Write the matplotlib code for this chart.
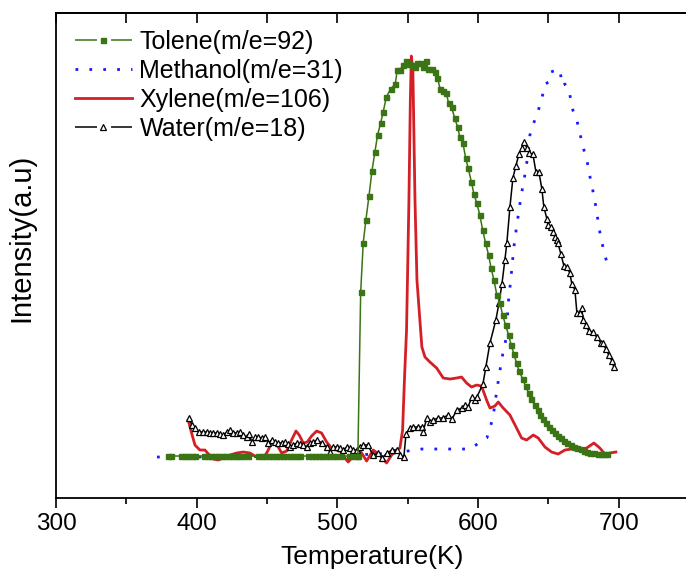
import matplotlib
matplotlib.use("Agg")
import matplotlib.pyplot as plt
from matplotlib.lines import Line2D
from matplotlib.ticker import MultipleLocator

plt.rcParams['font.family'] = ['Liberation Sans', 'DejaVu Sans']

# ---- Tolene (m/e=92) ----
tol_T = [379.6, 382.0, 389.0, 391.5, 394.0, 396.5, 398.6,
         405.4, 407.9, 410.4, 412.9, 415.4, 417.9, 420.4, 422.9, 425.4, 427.9, 430.4, 433.0, 436.2,
         443.8, 446.3, 448.8, 451.3, 453.8, 456.3, 458.8, 461.3, 463.8, 466.3, 468.8, 471.0, 473.2,
         479.3, 481.8, 484.3, 486.8, 489.3, 491.8, 494.3, 496.8, 499.3, 502.3,
         508.4, 511.0, 513.7, 514.6,
         516.6, 518.4, 520.3, 522.5, 524.6, 526.7, 528.6, 530.8, 532.6, 534.8,
         537.9, 541.2, 542.6, 544.7, 546.8, 548.8, 550.7, 552.8, 554.9, 556.8,
         558.9, 560.8, 563.0, 564.6, 567.0, 569.1, 571.2, 573.1, 575.3, 577.4,
         579.1, 581.2, 583.4, 585.5, 587.1, 589.3, 591.2, 593.0, 595.3, 597.1,
         599.1, 601.3, 603.3, 605.4, 607.5, 609.3, 611.3, 613.4, 615.6, 617.5,
         619.6, 621.7, 623.6, 625.5, 627.4, 629.3, 631.7, 633.8, 635.9, 637.8,
         640.2, 642.3, 644.2, 646.3, 648.2, 650.4, 652.5, 654.7, 656.8, 658.9,
         661.1, 663.4, 665.8, 668.2, 670.5, 672.9, 675.3, 677.6, 679.6, 682.4,
         685.2, 687.3, 689.5, 691.6]
tol_I = [42] * 47 + [
         206, 255, 278, 302, 327, 346, 363, 375, 386, 401,
         409, 414, 428, 428, 433, 437, 434, 433, 431, 435,
         435, 431, 437, 429, 429, 426, 420, 409, 407, 405,
         395, 391, 380, 371, 361, 355, 340, 330, 316, 304,
         295, 283, 268, 255, 243, 230, 218, 203, 195, 183,
         173, 163, 153, 144, 135, 127, 119, 112, 105, 99,
         93, 88, 83, 79, 75, 71, 68, 65, 62, 60,
         57, 55, 53, 51, 50, 49, 47, 46, 45.5, 45,
         44.5, 44, 44, 44]

# ---- Methanol (m/e=31) ----
met_T = [371.8, 400.0, 450.0, 500.0, 540.0, 560.0, 580.0, 594.0,
         606.3, 610.6, 613.4, 617.0, 620.5, 621.2, 623.4, 625.5, 627.6, 630.5,
         633.3, 635.5, 636.9, 639.0, 641.9, 644.0, 646.1, 647.5, 650.4, 651.8,
         657.5, 658.9, 659.6, 661.8, 664.6, 666.0, 667.4, 670.3, 671.7, 673.8,
         675.3, 677.4, 678.8, 680.2, 681.7, 683.1, 686.6, 688.1, 689.5, 691.6]
met_I = [41, 41, 41.5, 42, 45, 49, 49, 49,
         60, 80, 108, 140, 163, 191, 220, 251, 273, 301,
         323, 343, 363, 373, 383, 393, 404, 414, 416, 426,
         429, 422, 412, 414, 408, 398, 388, 378, 368, 357,
         348, 338, 327, 317, 307, 297, 266, 256, 246, 236]

# ---- Xylene (m/e=106) ----
xyl_T = [394.0, 396.4, 398.8, 402.3, 405.9, 409.0, 411.8, 415.4, 418.9, 423.7,
         428.4, 433.1, 437.9, 441.4, 445.0, 448.5, 450.9, 453.3, 455.7, 458.0,
         460.4, 464.0, 467.5, 470.6, 472.9, 475.8, 478.6, 481.7, 485.3, 488.8,
         492.4, 495.9, 499.5, 503.1, 505.4, 507.7, 510.2, 512.5, 514.9, 517.3,
         520.8, 525.5, 530.3, 535.0, 538.6, 542.1, 544.5, 546.4, 547.7, 549.2,
         550.9, 551.9, 552.6, 553.7, 555.2, 556.6, 559.2, 560.1, 562.3, 565.8,
         570.6, 575.3, 580.0, 584.8, 588.3, 591.9, 595.4, 599.0, 602.5, 606.1,
         608.5, 612.0, 614.4, 617.9, 622.7, 627.4, 631.0, 634.5, 639.3, 642.8,
         647.6, 652.3, 657.0, 661.8, 666.5, 672.4, 677.2, 682.4, 686.6, 690.2,
         693.7, 698.0]
xyl_I = [78, 65, 53, 48, 48, 43, 39, 38, 40, 43,
         45, 46, 45, 42, 40, 42, 48, 56, 56, 51,
         45, 47, 58, 67, 63, 55, 56, 62, 67, 65,
         56, 50, 48, 46, 40, 36, 40, 45, 48, 45,
         37, 48, 43, 35, 43, 48, 50, 68, 118, 168,
         298, 398, 442, 428, 298, 218, 168, 151, 141, 136,
         130, 120, 119, 120, 121, 115, 111, 113, 112, 98,
         90, 92, 96, 90, 83, 70, 60, 58, 63, 60,
         51, 46, 44, 48, 49, 48, 50, 55, 50, 44,
         45, 46]

# ---- Water (m/e=18) ----
wat_T = [394.5, 396.7, 398.8, 401.6, 404.5, 407.3, 409.5, 411.6, 414.4, 416.6,
         418.7, 421.5, 423.7, 425.8, 428.6, 430.8, 432.9, 435.7, 437.2, 439.3,
         441.4, 443.6, 446.4, 448.5, 450.7, 453.5, 455.7, 457.8, 460.6, 462.8,
         464.9, 466.3, 468.4, 471.3, 473.4, 475.6, 478.4, 480.5, 482.7, 485.5,
         489.1, 492.6, 494.7, 496.9, 499.7, 501.8, 504.0, 506.8, 509.0, 511.1,
         513.9, 516.1, 518.2, 521.7, 525.3, 528.9, 531.7, 535.3, 538.8, 542.4,
         544.5, 547.3, 548.8, 551.6, 553.7, 557.3, 560.1, 560.8, 563.7, 565.8,
         567.9, 571.5, 575.1, 578.6, 581.5, 585.0, 588.6, 590.7, 592.8, 595.7,
         597.8, 599.2, 603.5, 605.6, 608.5, 612.7, 614.9, 617.0, 619.1, 620.5,
         622.7, 624.8, 626.9, 629.1, 631.2, 632.6, 634.8, 636.2, 639.0, 641.2,
         643.3, 645.4, 646.8, 649.0, 649.7, 651.8, 653.3, 654.7, 656.1, 656.8,
         658.9, 661.1, 663.2, 665.3, 666.7, 668.9, 670.3, 672.4, 673.8, 674.6,
         676.7, 678.8, 681.7, 684.5, 687.3, 688.8, 690.9, 693.0, 695.2, 696.6]
wat_I = [80, 73, 70, 66, 66, 66, 65, 65, 65, 64,
         63, 66, 68, 65, 65, 66, 63, 61, 64, 56,
         61, 61, 60, 61, 55, 58, 56, 55, 55, 56,
         54, 51, 53, 55, 54, 53, 51, 55, 56, 58,
         55, 51, 46, 51, 51, 50, 48, 51, 50, 48,
         48, 51, 53, 53, 43, 45, 40, 45, 48, 48,
         43, 41, 64, 70, 71, 71, 71, 66, 80, 76,
         78, 80, 80, 83, 79, 88, 90, 93, 91, 101,
         98, 101, 114, 131, 155, 178, 195, 214, 238, 255,
         291, 320, 332, 344, 350, 356, 350, 345, 344, 326,
         326, 309, 291, 279, 273, 271, 266, 261, 258, 255,
         244, 232, 231, 225, 214, 208, 185, 185, 190, 178,
         173, 167, 166, 161, 155, 155, 149, 143, 137, 131]

labels = ["Tolene(m/e=92)", "Methanol(m/e=31)", "Xylene(m/e=106)", "Water(m/e=18)"]
green = "#3a7414"
blue = "#1a1aff"
red = "#d41f26"

fig = plt.figure(figsize=(6.86, 5.71), dpi=100)
ax = fig.add_axes([0.0816, 0.1278, 0.9228, 0.8494])

ax.plot(met_T, met_I, color=blue, lw=2.0, linestyle=(0, (1, 4)), zorder=2)
ax.plot(xyl_T, xyl_I, color=red, lw=2.0, solid_joinstyle='round', zorder=3)
ax.plot(wat_T, wat_I, color="black", lw=1.1, marker="^", ms=5,
        mfc="white", mec="black", mew=0.9, zorder=4)
ax.plot(tol_T, tol_I, color=green, lw=1.1, marker="s", ms=3.6,
        mfc=green, mec=green, zorder=5)

ax.set_xlim(300, 750)
ax.set_ylim(0, 485)
ax.set_yticks([])
ax.xaxis.set_major_locator(MultipleLocator(100))
ax.xaxis.set_minor_locator(MultipleLocator(50))
ax.tick_params(axis='x', which='major', direction='out', length=7, width=1.2,
               labelsize=17.5, pad=4)
ax.tick_params(axis='x', which='minor', direction='out', length=4.5, width=1.2)
for s in ax.spines.values():
    s.set_linewidth(1.3)

top = ax.secondary_xaxis('top')
top.xaxis.set_major_locator(MultipleLocator(50))
top.tick_params(direction='in', length=7, width=1.2, labeltop=False)
top.spines['top'].set_linewidth(1.3)

ax.set_xlabel("Temperature(K)", fontsize=19, labelpad=7)
ax.set_ylabel("Intensity(a.u)", fontsize=21)
ax.yaxis.set_label_coords(-0.032, 0.536)

# legend keys: line broken around the marker
gap = (0, (14.4, 9.2))
handles = [
    Line2D([], [], color=green, lw=1.1, linestyle=gap, marker="s", ms=3.6,
           mfc=green, mec=green),
    Line2D([], [], color=blue, lw=2.0, linestyle=(0, (1, 4))),
    Line2D([], [], color=red, lw=2.0),
    Line2D([], [], color="black", lw=1.1, linestyle=gap, marker="^", ms=5,
           mfc="white", mec="black", mew=0.9),
]
ax.legend(handles, labels, loc="upper left", bbox_to_anchor=(0.030, 0.965),
          frameon=False, fontsize=18, handlelength=2.28, handletextpad=0.3,
          labelspacing=0.2, borderaxespad=0, borderpad=0, numpoints=1)

fig.savefig("out.png", dpi=100)
